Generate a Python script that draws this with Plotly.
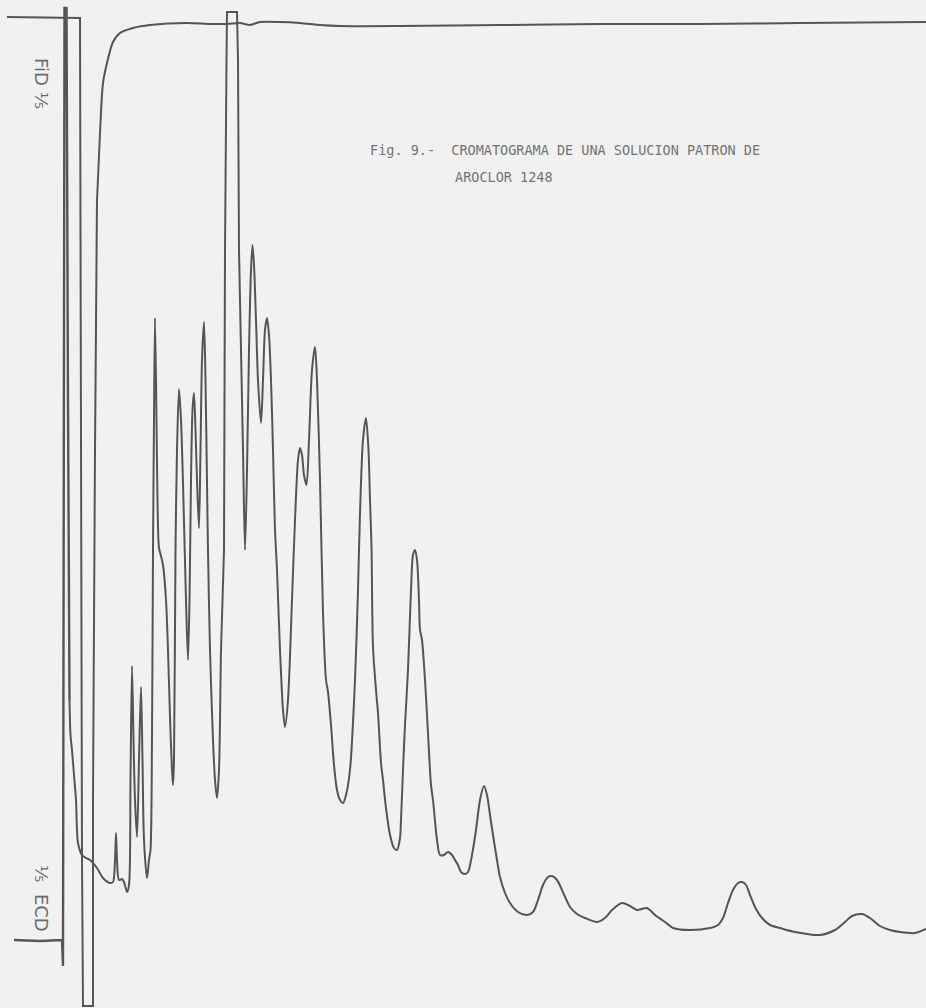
import plotly.graph_objects as go

# Chart-recorder trace.
# t   : chart position along the time axis (chart units, left -> right)
# pen : pen position measured down from the top edge of the paper (chart units)

# ---- FID trace ----
fid_step_t = [7, 40, 65, 80, 82, 83, 93, 93, 95, 97]
fid_step_pen = [17, 17.5, 18, 18, 860, 1006, 1006, 800, 450, 200]

fid_tail_t = [97, 100, 103, 107, 113, 120, 133, 150, 187, 210, 227, 240, 250, 260,
              280, 300, 320, 340, 400, 500, 600, 700, 800, 926]
fid_tail_pen = [200, 133, 83, 63, 42, 33, 28, 25, 23, 24, 24, 23, 25, 22,
                22, 23, 25, 26, 26, 25, 24, 24, 23, 22]

# ---- ECD trace ----
ecd_solvent_t = [14, 40, 62, 63, 64.5, 66.5, 68, 69.5]
ecd_solvent_pen = [940, 941, 940, 966, 8, 8, 400, 700]

ecd_early_t = [69.5, 70.5, 72, 74, 76, 78, 82, 86, 90, 97, 103, 110, 113, 115, 116, 117,
               119, 122, 124, 127, 129, 130.5, 132, 133.5, 135, 137, 139, 141, 142.5,
               144, 147, 149, 150.5, 152, 153, 154, 155, 156.5, 157.5, 159, 161, 163,
               166, 168, 170, 172, 173, 174, 175.5, 177, 179, 181, 183, 186, 188, 189.5,
               191, 192.5, 194, 195.5, 197, 199, 200.5, 202, 204, 205.5, 207, 208, 210,
               213, 215, 217, 219, 221, 222, 224]
ecd_early_pen = [700, 735, 750, 775, 800, 843, 855, 858, 860, 868, 878, 883, 882, 860,
                 833, 860, 880, 879, 882, 892, 885, 780, 666, 740, 800, 837, 760, 687,
                 760, 840, 878, 860, 850, 737, 550, 420, 318, 420, 500, 548, 556, 565,
                 600, 650, 717, 770, 785, 760, 550, 450, 389, 420, 483, 600, 660, 600,
                 480, 410, 393, 430, 480, 528, 450, 360, 322, 380, 483, 550, 650,
                 740, 780, 798, 770, 650, 617, 550]

ecd_clip_t = [224, 225, 226.5, 227, 237, 238, 239, 241]
ecd_clip_pen = [550, 250, 60, 12, 12, 60, 250, 350]

ecd_late_t = [241, 243, 245, 247, 249, 251, 252.5, 254, 256, 258, 261, 263, 265, 267,
              269, 271, 273, 275, 277, 280, 283, 285, 288, 292, 295, 298, 300, 302,
              304, 306.5, 309, 312, 315, 317, 320, 323, 326, 328, 331, 334, 337, 340,
              343, 346, 350, 355, 358, 360, 363, 366, 368.5, 370, 371.5, 373, 376, 378,
              381, 383, 386, 390, 394, 397, 400, 401, 403, 405, 408, 411, 413, 415,
              417, 419, 420, 422, 425, 428, 431, 433, 437, 440, 444, 448, 452, 455,
              458, 461, 465, 468, 472, 476, 480, 484, 487, 490, 493, 497, 500, 505,
              510, 518, 527, 533, 538, 543, 548, 552, 557, 562, 570, 577, 585, 597,
              605, 612, 622, 630, 637, 647, 655, 665, 673, 690, 710, 718, 723, 728,
              733, 738, 742, 746, 750, 755, 762, 770, 780, 795, 820, 835, 845, 852,
              862, 870, 880, 890, 900, 915, 926]
ecd_late_pen = [350, 450, 550, 470, 350, 270, 245, 265, 320, 380, 423, 380, 330, 318,
                335, 380, 450, 530, 570, 650, 710, 727, 700, 600, 520, 460, 448, 455,
                475, 485, 440, 370, 347, 380, 480, 613, 680, 692, 725, 765, 790, 800,
                803, 795, 770, 680, 590, 513, 440, 418, 450, 500, 547, 647, 690, 713,
                763, 780, 808, 835, 848, 850, 838, 820, 770, 725, 670, 590, 555, 550,
                560, 600, 630, 640, 680, 733, 785, 800, 840, 855, 855, 852, 855, 860,
                865, 872, 874, 872, 855, 830, 800, 786, 795, 815, 835, 860, 877, 893,
                903, 912, 915, 912, 900, 885, 877, 876, 880, 890, 907, 914, 918, 922,
                918, 910, 903, 906, 910, 908, 915, 922, 928, 930, 928, 925, 918, 903,
                890, 883, 882, 885, 895, 907, 918, 925, 928, 932, 935, 930, 922, 916,
                914, 918, 926, 930, 932, 933, 929]

caption_line1 = "Fig. 9.-\u00a0\u00a0CROMATOGRAMA DE UNA SOLUCION PATRON DE"
caption_line2 = "AROCLOR 1248"
fid_label = "FiD \u2155"
ecd_label = "\u2155\u00a0\u00a0ECD"

INK = "#555555"

fig = go.Figure()

def add(t, pen, shape, w=2.0):
    fig.add_trace(go.Scatter(x=t, y=pen, mode="lines",
                             line=dict(color=INK, width=w, shape=shape, smoothing=0.8),
                             hoverinfo="skip", showlegend=False))

add(fid_step_t, fid_step_pen, "linear")
add(fid_tail_t, fid_tail_pen, "spline")
add(ecd_solvent_t, ecd_solvent_pen, "linear", 2.4)
add(ecd_early_t, ecd_early_pen, "spline")
add(ecd_clip_t, ecd_clip_pen, "linear")
add(ecd_late_t, ecd_late_pen, "spline")

mono = dict(family="DejaVu Sans Mono", size=13.5, color="#747474")
fig.add_annotation(x=368, y=150, text=caption_line1, showarrow=False,
                   xanchor="left", yanchor="middle", font=mono)
fig.add_annotation(x=453, y=177, text=caption_line2, showarrow=False,
                   xanchor="left", yanchor="middle", font=mono)
hand = dict(family="DejaVu Sans", size=18, color="#6a6a6a")
fig.add_annotation(x=42, y=83, text=fid_label, showarrow=False, textangle=90,
                   xanchor="center", yanchor="middle", font=hand)
fig.add_annotation(x=42, y=898, text=ecd_label, showarrow=False, textangle=90,
                   xanchor="center", yanchor="middle", font=hand)

fig.update_layout(
    width=926, height=1008,
    margin=dict(l=0, r=0, t=0, b=0),
    paper_bgcolor="#f1f1f1", plot_bgcolor="#f1f1f1",
    xaxis=dict(range=[0, 926], visible=False, fixedrange=True),
    yaxis=dict(range=[1008, 0], visible=False, fixedrange=True),
    showlegend=False,
)

fig.write_html("out.html", config={"displayModeBar": False},
               post_script="document.body.style.margin='0';document.body.style.overflow='hidden';")
